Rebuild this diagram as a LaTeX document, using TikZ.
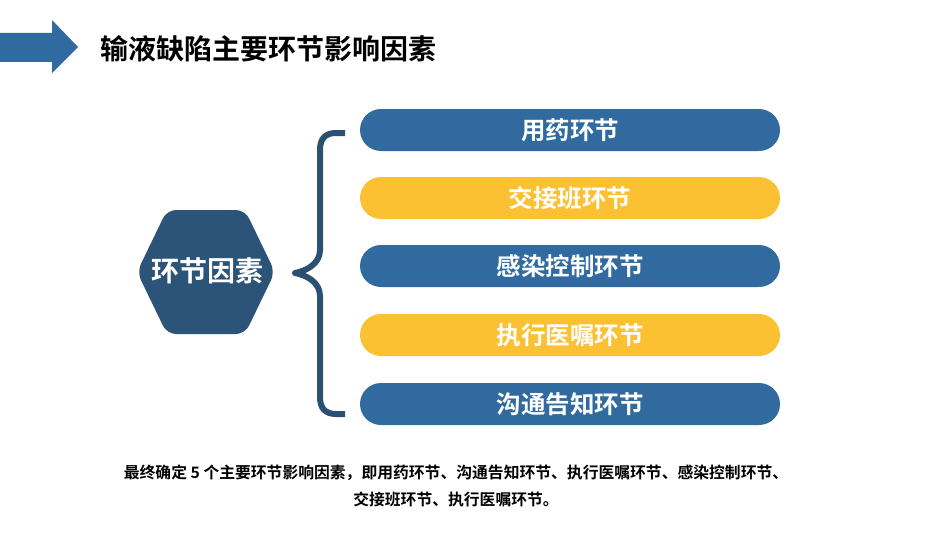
\documentclass[tikz,border=0pt]{standalone}
\usepackage{fontspec}
\setmainfont{Noto Sans CJK SC}[BoldFont={Noto Sans CJK SC Bold}]
\usetikzlibrary{positioning,calc}

\definecolor{pillblue}{HTML}{306A9E}
\definecolor{pillgold}{HTML}{FCC033}
\definecolor{hexblue}{HTML}{2C5378}
\definecolor{bracecol}{HTML}{2B5172}

\begin{document}
\begin{tikzpicture}[
  x=1pt,y=-1pt,
  font=\bfseries,
  pill/.style={rounded corners=21pt,minimum width=420pt,minimum height=42pt,
    inner sep=0pt,text=white,font=\bfseries\fontsize{24.5}{27}\selectfont},
  hexa/.style={fill=hexblue,rounded corners=9pt},
  brace/.style={draw=bracecol,line width=6pt,line cap=butt,line join=round},
  ttl/.style={font=\bfseries\fontsize{28}{32}\selectfont,anchor=west,inner sep=0pt},
  note/.style={font=\bfseries\fontsize{15.8}{27}\selectfont,align=center,inner sep=0pt}
]
\useasboundingbox (0,0) rectangle (950,535);

% ---- title bar ----
\fill[pillblue] (0,33) -- (52,33) -- (52,20) -- (78,47) -- (52,73) -- (52,62) -- (0,62) -- cycle;
\node[ttl] (title) at (100,49) {输液缺陷主要环节影响因素};

% ---- hexagon ----
\fill[hexa] (137,272) -- (167,210) -- (245,210) -- (275,272) -- (245,334) -- (167,334) -- cycle;
\node[text=white,font=\bfseries\fontsize{28}{30}\selectfont] (factor) at (207,271) {环节因素};

% ---- brace ----
\draw[brace] (345,133) -- (336,133) .. controls (325,133) and (320,139) .. (320,150)
  -- (320,250) .. controls (320,264) and (306,271) .. (295,273)
  .. controls (306,275) and (320,282) .. (320,296)
  -- (320,397) .. controls (320,408) and (325,414) .. (336,414) -- (345,414);

% ---- links ----
\foreach \n/\y/\c/\t in {1/130/pillblue/用药环节, 2/198/pillgold/交接班环节,
    3/266/pillblue/感染控制环节, 4/335/pillgold/执行医嘱环节, 5/404/pillblue/沟通告知环节}
  \node[pill,fill=\c,text depth=2pt] (link\n) at (570,\y) {\t};

% ---- conclusion ----
\node[note] (summary) at (456,486)
  {最终确定 5 个主要环节影响因素，即用药环节、沟通告知环节、执行医嘱环节、感染控制环节、\\
   交接班环节、执行医嘱环节。};

\end{tikzpicture}
\end{document}
